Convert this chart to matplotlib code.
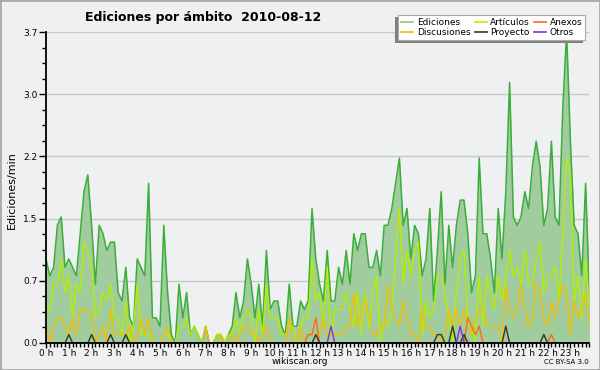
import numpy as np
import matplotlib
matplotlib.use('Agg')
import matplotlib.pyplot as plt
from matplotlib.lines import Line2D
from matplotlib.patches import Rectangle
from matplotlib.ticker import FixedLocator, MultipleLocator

# edits per minute, one value per 10 minutes (144 slots, 0h .. 23h50)
ediciones = [
    1.0, 0.8, 0.9, 1.4, 1.5, 0.9, 1.0, 0.9, 0.8, 1.3, 1.8, 2.0,
    1.4, 0.7, 1.4, 1.3, 1.1, 1.2, 1.2, 0.6, 0.5, 0.9, 0.3, 0.2,
    1.0, 0.9, 0.8, 1.9, 0.3, 0.3, 0.2, 1.4, 0.6, 0.1, 0.0, 0.7,
    0.3, 0.6, 0.1, 0.2, 0.1, 0.0, 0.2, 0.0, 0.0, 0.1, 0.1, 0.0,
    0.1, 0.2, 0.6, 0.3, 0.5, 1.0, 0.7, 0.3, 0.7, 0.2, 1.1, 0.4,
    0.5, 0.5, 0.2, 0.1, 0.7, 0.2, 0.2, 0.5, 0.4, 0.5, 1.6, 1.0,
    0.7, 0.5, 1.1, 0.5, 0.5, 0.9, 0.7, 1.1, 0.7, 1.3, 1.1, 1.3,
    1.3, 0.9, 0.9, 1.1, 0.8, 1.4, 1.4, 1.6, 1.9, 2.2, 1.4, 1.6,
    1.0, 1.4, 1.3, 0.8, 1.0, 1.6, 0.5, 1.1, 1.8, 0.7, 1.4, 0.9,
    1.4, 1.7, 1.7, 1.3, 0.6, 0.8, 2.2, 1.3, 1.3, 1.0, 0.6, 1.6,
    1.0, 1.8, 3.1, 1.5, 1.4, 1.5, 1.8, 1.6, 2.1, 2.4, 2.1, 1.4,
    1.6, 2.4, 1.5, 1.4, 2.8, 3.7, 2.4, 1.4, 1.3, 0.8, 1.9, 0.6,
]
articulos = [
    0.4, 0.4, 0.7, 0.7, 1.0, 0.6, 0.8, 0.3, 0.7, 0.6, 1.2, 1.1,
    0.9, 0.3, 0.4, 0.6, 0.5, 0.7, 0.3, 0.3, 0.1, 0.5, 0.0, 0.2,
    0.7, 0.1, 0.1, 0.1, 0.0, 0.0, 0.0, 0.1, 0.1, 0.0, 0.0, 0.2,
    0.2, 0.3, 0.1, 0.2, 0.1, 0.0, 0.0, 0.0, 0.0, 0.1, 0.1, 0.0,
    0.1, 0.1, 0.3, 0.1, 0.3, 0.4, 0.3, 0.0, 0.4, 0.1, 0.7, 0.3,
    0.3, 0.3, 0.1, 0.1, 0.2, 0.2, 0.0, 0.2, 0.3, 0.3, 1.0, 0.5,
    0.6, 0.2, 0.9, 0.1, 0.4, 0.4, 0.4, 0.6, 0.4, 0.2, 0.6, 0.1,
    0.6, 0.2, 0.6, 0.8, 0.0, 0.3, 0.2, 0.4, 1.0, 1.6, 0.7, 1.1,
    0.8, 1.1, 1.2, 0.1, 0.5, 0.3, 0.4, 0.8, 0.8, 0.6, 0.3, 0.0,
    0.6, 1.0, 1.1, 0.3, 0.2, 0.0, 0.8, 0.2, 0.8, 0.6, 0.4, 0.8,
    0.5, 0.8, 1.1, 0.8, 0.9, 0.7, 1.1, 0.7, 0.7, 1.0, 1.2, 0.6,
    0.8, 0.8, 0.9, 0.5, 1.3, 2.2, 2.0, 0.5, 0.8, 0.3, 1.0, 0.4,
]
discusiones = [
    0.2, 0.0, 0.2, 0.3, 0.3, 0.2, 0.1, 0.3, 0.1, 0.4, 0.4, 0.4,
    0.3, 0.0, 0.1, 0.2, 0.0, 0.4, 0.1, 0.1, 0.1, 0.1, 0.2, 0.0,
    0.1, 0.3, 0.1, 0.3, 0.0, 0.0, 0.0, 0.1, 0.2, 0.0, 0.0, 0.0,
    0.0, 0.0, 0.0, 0.0, 0.0, 0.0, 0.2, 0.0, 0.0, 0.0, 0.1, 0.0,
    0.0, 0.1, 0.0, 0.1, 0.2, 0.2, 0.1, 0.1, 0.0, 0.1, 0.2, 0.0,
    0.0, 0.0, 0.0, 0.0, 0.3, 0.0, 0.0, 0.2, 0.0, 0.1, 0.1, 0.1,
    0.1, 0.3, 0.1, 0.1, 0.1, 0.1, 0.1, 0.2, 0.2, 0.6, 0.2, 0.4,
    0.5, 0.3, 0.1, 0.1, 0.2, 0.2, 0.7, 0.4, 0.3, 0.2, 0.5, 0.3,
    0.1, 0.1, 0.0, 0.4, 0.2, 0.2, 0.1, 0.1, 0.0, 0.1, 0.4, 0.2,
    0.4, 0.2, 0.4, 0.2, 0.1, 0.3, 0.4, 0.4, 0.2, 0.2, 0.2, 0.2,
    0.0, 0.7, 0.4, 0.3, 0.4, 0.7, 0.4, 0.2, 0.3, 0.7, 0.6, 0.3,
    0.2, 0.5, 0.3, 0.5, 0.7, 0.6, 0.1, 0.5, 0.3, 0.4, 0.6, 0.2,
]
anexos = [
    0.0, 0.0, 0.0, 0.0, 0.0, 0.0, 0.0, 0.0, 0.0, 0.0, 0.0, 0.0,
    0.0, 0.0, 0.0, 0.0, 0.0, 0.0, 0.0, 0.0, 0.0, 0.0, 0.0, 0.0,
    0.0, 0.0, 0.0, 0.0, 0.0, 0.0, 0.0, 0.0, 0.0, 0.0, 0.0, 0.0,
    0.0, 0.0, 0.0, 0.0, 0.0, 0.0, 0.0, 0.0, 0.0, 0.0, 0.0, 0.0,
    0.0, 0.0, 0.0, 0.0, 0.0, 0.0, 0.0, 0.0, 0.0, 0.0, 0.0, 0.0,
    0.0, 0.0, 0.0, 0.0, 0.0, 0.0, 0.0, 0.0, 0.0, 0.1, 0.1, 0.3,
    0.0, 0.0, 0.0, 0.0, 0.0, 0.0, 0.0, 0.0, 0.0, 0.0, 0.0, 0.0,
    0.0, 0.0, 0.0, 0.0, 0.0, 0.0, 0.0, 0.0, 0.0, 0.0, 0.0, 0.0,
    0.0, 0.0, 0.0, 0.0, 0.0, 0.0, 0.0, 0.0, 0.0, 0.0, 0.0, 0.0,
    0.0, 0.0, 0.0, 0.3, 0.2, 0.1, 0.2, 0.0, 0.0, 0.0, 0.0, 0.0,
    0.0, 0.0, 0.0, 0.0, 0.0, 0.0, 0.0, 0.0, 0.0, 0.0, 0.0, 0.0,
    0.0, 0.1, 0.0, 0.0, 0.0, 0.0, 0.0, 0.0, 0.0, 0.0, 0.0, 0.0,
]
proyecto = [
    0.0, 0.0, 0.0, 0.0, 0.0, 0.0, 0.1, 0.0, 0.0, 0.0, 0.0, 0.0,
    0.1, 0.0, 0.0, 0.0, 0.0, 0.1, 0.0, 0.0, 0.0, 0.1, 0.0, 0.0,
    0.0, 0.0, 0.0, 0.0, 0.0, 0.0, 0.0, 0.0, 0.0, 0.0, 0.0, 0.0,
    0.0, 0.0, 0.0, 0.0, 0.0, 0.0, 0.0, 0.0, 0.0, 0.0, 0.0, 0.0,
    0.0, 0.0, 0.0, 0.0, 0.0, 0.0, 0.0, 0.0, 0.0, 0.0, 0.0, 0.0,
    0.0, 0.0, 0.0, 0.0, 0.0, 0.0, 0.0, 0.0, 0.0, 0.0, 0.0, 0.1,
    0.0, 0.0, 0.0, 0.0, 0.0, 0.0, 0.0, 0.0, 0.0, 0.0, 0.0, 0.0,
    0.0, 0.0, 0.0, 0.0, 0.0, 0.0, 0.0, 0.0, 0.0, 0.0, 0.0, 0.0,
    0.0, 0.0, 0.0, 0.0, 0.0, 0.0, 0.0, 0.1, 0.1, 0.0, 0.0, 0.2,
    0.0, 0.0, 0.1, 0.0, 0.0, 0.0, 0.0, 0.0, 0.0, 0.0, 0.0, 0.0,
    0.0, 0.2, 0.0, 0.0, 0.0, 0.0, 0.0, 0.0, 0.0, 0.0, 0.0, 0.1,
    0.0, 0.0, 0.0, 0.0, 0.0, 0.0, 0.0, 0.0, 0.0, 0.0, 0.0, 0.0,
]
otros = [
    0.0, 0.0, 0.0, 0.0, 0.0, 0.0, 0.0, 0.0, 0.0, 0.0, 0.0, 0.0,
    0.0, 0.0, 0.0, 0.0, 0.0, 0.0, 0.0, 0.0, 0.0, 0.0, 0.0, 0.0,
    0.0, 0.0, 0.0, 0.0, 0.0, 0.0, 0.0, 0.0, 0.0, 0.0, 0.0, 0.0,
    0.0, 0.0, 0.0, 0.0, 0.0, 0.0, 0.0, 0.0, 0.0, 0.0, 0.0, 0.0,
    0.0, 0.0, 0.0, 0.0, 0.0, 0.0, 0.0, 0.0, 0.0, 0.0, 0.0, 0.0,
    0.0, 0.0, 0.0, 0.0, 0.0, 0.0, 0.0, 0.0, 0.0, 0.0, 0.0, 0.0,
    0.0, 0.0, 0.0, 0.2, 0.0, 0.0, 0.0, 0.0, 0.0, 0.0, 0.0, 0.0,
    0.0, 0.0, 0.0, 0.0, 0.0, 0.0, 0.0, 0.0, 0.0, 0.0, 0.0, 0.0,
    0.0, 0.0, 0.0, 0.0, 0.0, 0.0, 0.0, 0.0, 0.0, 0.0, 0.0, 0.0,
    0.0, 0.2, 0.0, 0.0, 0.0, 0.0, 0.0, 0.0, 0.0, 0.0, 0.0, 0.0,
    0.0, 0.0, 0.0, 0.0, 0.0, 0.0, 0.0, 0.0, 0.0, 0.0, 0.0, 0.0,
    0.0, 0.0, 0.0, 0.0, 0.0, 0.0, 0.0, 0.0, 0.0, 0.0, 0.0, 0.0,
]
hours = list(range(24))
hour_labels = ['%d h' % h for h in hours]

title = 'Ediciones por ámbito  2010-08-12'

series = [
    ('Artículos', articulos, '#b4ee00'),
    ('Discusiones', discusiones, '#f2c000'),
    ('Anexos', anexos, '#ff6a10'),
    ('Proyecto', proyecto, '#333333'),
    ('Otros', otros, '#8a2be2'),
]

x = np.arange(len(ediciones))

fig = plt.figure(figsize=(6, 3.7), dpi=100, facecolor='#f0f0f0')
ax = fig.add_axes([46 / 600, 1 - 343 / 370, 543.4 / 600, 311 / 370])
ax.set_facecolor('#eef0f2')

ax.fill_between(x, ediciones, 0, color='#a0cc9e', lw=0, zorder=2)
ax.plot(x, ediciones, color='#3aae3a', lw=1.1, zorder=3)
for name, vals, col in series:
    ax.plot(x, vals, color=col, lw=1.0, zorder=4)

ymax = max(ediciones)
ax.set_xlim(0, len(ediciones) - 1)
ax.set_ylim(0, ymax)
yt = np.linspace(0, ymax, 6)
ax.yaxis.set_major_locator(FixedLocator(yt))
ax.set_yticklabels(['%.1f' % v for v in yt])
ax.yaxis.set_minor_locator(FixedLocator(np.linspace(0, ymax, 21)))
ax.xaxis.set_major_locator(FixedLocator([h * 6 for h in hours]))
ax.set_xticklabels(hour_labels)
ax.xaxis.set_minor_locator(MultipleLocator(1))

ax.grid(axis='y', which='major', color='#c8c8c8', lw=1, zorder=1)
ax.set_axisbelow(True)
for s in ['top', 'right']:
    ax.spines[s].set_visible(False)
for s in ['left', 'bottom']:
    ax.spines[s].set_linewidth(1.3)
    ax.spines[s].set_zorder(6)
ax.tick_params(axis='y', which='major', length=5, width=1, labelsize=6.5, pad=1)
ax.tick_params(axis='y', which='minor', length=3, width=1)
ax.tick_params(axis='x', which='major', length=3.5, width=1, labelsize=6.5, pad=0.5)
ax.tick_params(axis='x', which='minor', length=3, width=1)

handles = [Line2D([], [], color='#80d080', lw=1.2)]
handles += [Line2D([], [], color=c, lw=1.2) for n, v, c in series]
names = ['Ediciones'] + [n for n, v, c in series]
order = [0, 2, 1, 4, 3, 5]
leg = ax.legend([handles[i] for i in order], [names[i] for i in order],
                loc='upper right', bbox_to_anchor=(590 / 600, 1 - 10 / 370),
                bbox_transform=fig.transFigure, ncol=3, fontsize=6.5,
                fancybox=False, borderpad=0.35, labelspacing=0.15,
                handlelength=1.3, handletextpad=0.4, columnspacing=0.5,
                shadow={'ox': -2, 'oy': -2, 'facecolor': '#808080',
                        'edgecolor': 'none', 'alpha': 1})
leg.get_frame().set_edgecolor('#aaaaaa')
leg.get_frame().set_linewidth(0.8)
leg.set_zorder(10)

fig.text(85 / 600, 1 - 17 / 370, title, fontsize=9, fontweight='bold', va='center')
fig.text(12 / 600, 1 - 190 / 370, 'Ediciones/min', rotation=90, fontsize=8,
         va='center', ha='center')
fig.text(300 / 600, 1 - 362 / 370, 'wikiscan.org', fontsize=6.5, ha='center', va='center')
fig.text(589 / 600, 1 - 362 / 370, 'CC BY-SA 3.0', fontsize=5, ha='right', va='center')
fig.add_artist(Rectangle((0, 0), 1, 1, transform=fig.transFigure, fill=False,
                         edgecolor='#aaaaaa', lw=2))

fig.savefig('out.png', dpi=100, facecolor=fig.get_facecolor())
